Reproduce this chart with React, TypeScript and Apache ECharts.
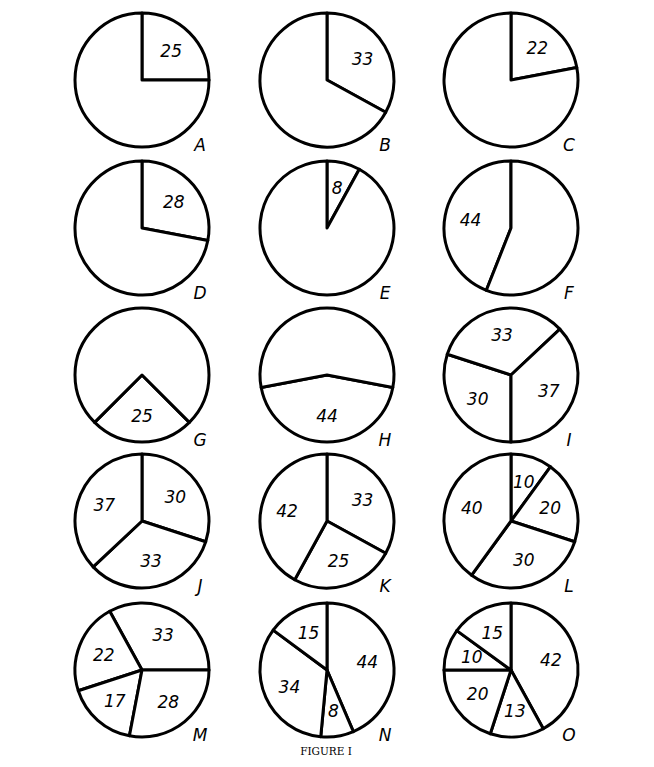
import React, { useEffect, useRef } from "react";
import * as echarts from "echarts";

const letters = ["A", "B", "C", "D", "E", "F", "G", "H", "I", "J", "K", "L", "M", "N", "O"];
const pieValues: number[][] = [
  [25, 75], [33, 67], [22, 78],
  [28, 72], [8, 92], [44, 56],
  [25, 75], [44, 56], [30, 33, 37],
  [30, 33, 37], [33, 25, 42], [10, 20, 30, 40],
  [33, 22, 17, 28], [44, 8, 34, 15], [42, 13, 20, 10, 15],
];
// how many leading slices carry a printed value (the rest is the unlabelled remainder)
const labeledCounts = [1, 1, 1, 1, 1, 1, 1, 1, 3, 3, 3, 4, 4, 4, 5];
const startAngles = [90, 90, 90, 90, 90, 90, 315, 349.2, 270, 90, 90, 90, 0, 90, 90];
const clockwiseFlags = [true, true, true, true, true, false, true, true, true, true, true, true, false, true, true];
const caption = "FIGURE I";

const colX = [142, 327, 511];
const rowY = [80, 228, 375, 521, 670];
const R = 67;

export default function App() {
  const ref = useRef<HTMLDivElement>(null);
  useEffect(() => {
    if (!ref.current) return;
    const chart = echarts.init(ref.current, null, { renderer: "svg" });
    const series: any[] = [];
    const graphics: any[] = [];
    pieValues.forEach((vals, i) => {
      const cx = colX[i % 3];
      const cy = rowY[Math.floor(i / 3)];
      const data = vals.map((v, j) => ({ value: v, name: letters[i] + j }));
      series.push({
        type: "pie",
        center: [cx, cy],
        radius: [0, R],
        startAngle: startAngles[i],
        clockwise: clockwiseFlags[i],
        avoidLabelOverlap: false,
        silent: true,
        label: { show: false },
        labelLine: { show: false },
        itemStyle: { color: "#ffffff", borderColor: "#000000", borderWidth: 3 },
        emphasis: { disabled: true },
        data,
      });
      series.push({
        type: "pie",
        center: [cx, cy],
        radius: [0, R * 1.14],
        startAngle: startAngles[i],
        clockwise: clockwiseFlags[i],
        avoidLabelOverlap: false,
        silent: true,
        z: 5,
        labelLine: { show: false },
        itemStyle: { color: "transparent", borderWidth: 0 },
        emphasis: { disabled: true },
        data: vals.map((v, j) => ({
          value: v,
          name: letters[i] + "L" + j,
          label: {
            show: j < labeledCounts[i],
            position: "inside",
            formatter: String(v),
            color: "#000",
            fontFamily: "DejaVu Sans",
            fontStyle: "italic",
            fontSize: 17,
          },
        })),
      });
      graphics.push({
        type: "text",
        x: cx + 58,
        y: cy + 65,
        style: {
          text: letters[i],
          fill: "#000",
          font: "italic 17px 'DejaVu Sans'",
          textAlign: "center",
          textVerticalAlign: "middle",
        },
      });
    });
    graphics.push({
      type: "text",
      x: 326,
      y: 751,
      style: {
        text: caption,
        fill: "#000",
        font: "10.5px 'DejaVu Serif'",
        textAlign: "center",
        textVerticalAlign: "middle",
      },
    });
    chart.setOption({
      animation: false,
      backgroundColor: "#ffffff",
      series,
      graphic: graphics,
    });
    return () => chart.dispose();
  }, []);
  return (
    <div
      ref={ref}
      style={{ position: "absolute", left: 0, top: 0, width: 654, height: 767 }}
    />
  );
}
